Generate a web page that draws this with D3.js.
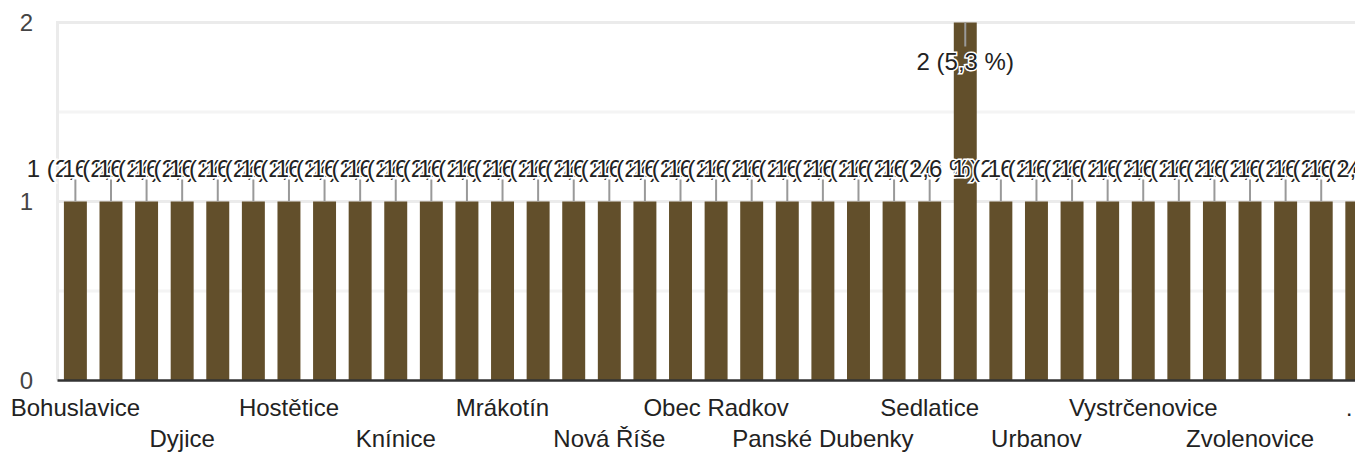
<!DOCTYPE html>
<html lang="cs">
<head>
<meta charset="utf-8">
<script src="https://d3js.org/d3.v7.min.js"></script>
<style>
  body { margin: 0; background: #fff; }
  text { font-family: Arial, "Liberation Sans", sans-serif; }
</style>
</head>
<body>
<svg id="chart"></svg>
<script>
// obce (answers) and counts
var obce = ["Bohuslavice", "Borovná", "Černíč", "Dyjice", "Hodice", "Horní Myslová",
  "Hostětice", "Jihlávka", "Kaliště", "Knínice", "Lhotka", "Markvartice",
  "Mrákotín", "Mysliboř", "Nevcehle", "Nová Říše", "Nové Dvory", "Nový Rychnov",
  "Obec Radkov", "Olšany", "Ořechov", "Panské Dubenky", "Radkov", "Rozseč",
  "Sedlatice", "Telč", "Třešť", "Urbanov", "Vanov", "Vanůvek",
  "Vystrčenovice", "Zadní Vydří", "Zdeňkov", "Zvolenovice", "Želetava", "Žirovnice",
  "Žďár"];
var pocty = [1, 1, 1, 1, 1, 1, 1, 1, 1, 1, 1, 1,
  1, 1, 1, 1, 1, 1, 1, 1, 1, 1, 1, 1,
  1, 2, 1, 1, 1, 1, 1, 1, 1, 1, 1, 1,
  1];
var yTicks = [0, 1, 2];
var yMinor = [0.5, 1.5];

var W = 1355, H = 453;
var pLeft = 57.5, pTop = 22.5, pBottom = 380.5;
var step = 35.6;
var total = d3.sum(pocty);

var svg = d3.select("#chart").attr("width", W).attr("height", H);

var x = d3.scaleBand().domain(obce).range([pLeft, pLeft + obce.length * step]).paddingInner(0.355).paddingOuter(0.18);
var y = d3.scaleLinear().domain([0, 2]).range([pBottom, pTop]);

// gridlines
svg.append("g").selectAll("line").data(yMinor).enter().append("line")
  .attr("x1", pLeft).attr("x2", W).attr("y1", function(d) { return y(d); }).attr("y2", function(d) { return y(d); })
  .attr("stroke", "#f4f4f4").attr("stroke-width", 3);
svg.append("g").selectAll("line").data(yTicks.slice(1)).enter().append("line")
  .attr("x1", pLeft).attr("x2", W).attr("y1", function(d) { return y(d); }).attr("y2", function(d) { return y(d); })
  .attr("stroke", "#ebebeb").attr("stroke-width", 3);
svg.append("line").attr("x1", pLeft).attr("x2", pLeft).attr("y1", pTop - 1.5).attr("y2", pBottom)
  .attr("stroke", "#ebebeb").attr("stroke-width", 3);

// y axis
var yAxis = d3.axisLeft(y).tickValues(yTicks).tickSize(0).tickPadding(0).tickFormat(d3.format("d"));
var ya = svg.append("g").attr("transform", "translate(33,0)").call(yAxis);
ya.select(".domain").remove();
ya.selectAll("text").attr("font-size", 24).attr("fill", "#444").attr("dy", "0.35em")
  .style("font-family", "Arial, 'Liberation Sans', sans-serif");

// bars
svg.append("g").selectAll("rect").data(obce).enter().append("rect")
  .attr("x", function(d) { return x(d); })
  .attr("y", function(d, i) { return y(pocty[i]); })
  .attr("width", x.bandwidth())
  .attr("height", function(d, i) { return y(0) - y(pocty[i]); })
  .attr("fill", "#624f2b");

// baseline
svg.append("line").attr("x1", pLeft).attr("x2", W).attr("y1", y(0)).attr("y2", y(0))
  .attr("stroke", "#333").attr("stroke-width", 2.5);

// x axis labels, two staggered rows, every third category
var xAxis = d3.axisBottom(x).tickSize(0).tickPadding(0)
  .tickValues(obce.filter(function(d, i) { return i % 3 == 0; }));
var xa = svg.append("g").call(xAxis);
xa.select(".domain").remove();
xa.selectAll("text").attr("font-size", 24).attr("fill", "#222").attr("dy", null)
  .style("font-family", "Arial, 'Liberation Sans', sans-serif")
  .attr("y", function(d) { return obce.indexOf(d) % 6 == 0 ? 416 : 447; })
  .each(function(d) {
    var cx = x(d) + x.bandwidth() / 2;
    if (cx + this.getComputedTextLength() / 2 > W) d3.select(this).text("…");
  });

// annotations: stems + labels with white halo
function fmt(v) { return v + " (" + d3.format(".1f")(v / total * 100).replace(".", ",") + " %)"; }
var ann = obce.map(function(d, i) {
  var cx = x(d) + x.bandwidth() / 2;
  var yt = y(pocty[i]);
  var inside = yt - 22 - 20 < pTop;
  return {cx: cx, y1: yt, y2: inside ? yt + 24 : yt - 22, ty: inside ? yt + 47.5 : yt - 24.5, txt: fmt(pocty[i])};
});
svg.append("g").selectAll("line").data(ann).enter().append("line")
  .attr("x1", function(d) { return d.cx; }).attr("x2", function(d) { return d.cx; })
  .attr("y1", function(d) { return d.y1; }).attr("y2", function(d) { return d.y2; })
  .attr("stroke", "#999").attr("stroke-width", 2);
svg.append("g").selectAll("text").data(ann).enter().append("text")
  .attr("x", function(d) { return d.cx; }).attr("y", function(d) { return d.ty; })
  .attr("text-anchor", "middle").attr("font-size", 24).attr("fill", "#222")
  .attr("stroke", "#fff").attr("stroke-width", 3).attr("paint-order", "stroke")
  .text(function(d) { return d.txt; });
</script>
</body>
</html>
